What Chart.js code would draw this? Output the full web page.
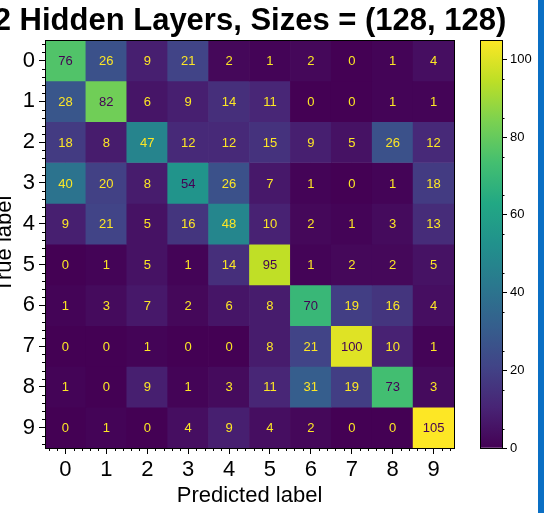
<!DOCTYPE html>
<html>
<head>
<meta charset="utf-8">
<script src="https://cdn.jsdelivr.net/npm/chart.js@4.4.1/dist/chart.umd.min.js"></script>
<style>
  html, body { margin: 0; padding: 0; background: #fff; overflow: hidden; }
  #wrap { position: relative; width: 550px; height: 513px; }
  #cm { position: absolute; left: -8px; top: 0; }
  #cbar { position: absolute; left: 470px; top: 0; }
  #edge { position: absolute; left: 538px; top: 0; width: 6px; height: 513px; background: #0a6fc4; }
</style>
</head>
<body>
<div id="wrap">
  <canvas id="cm" width="516" height="513"></canvas>
  <canvas id="cbar" width="70" height="513"></canvas>
  <div id="edge"></div>
</div>
<script>
var predictedLabels = ['0', '1', '2', '3', '4', '5', '6', '7', '8', '9'];
var trueLabels = ['0', '1', '2', '3', '4', '5', '6', '7', '8', '9'];

// rows = true label, columns = predicted label
var row0 = [76, 26, 9, 21, 2, 1, 2, 0, 1, 4];
var row1 = [28, 82, 6, 9, 14, 11, 0, 0, 1, 1];
var row2 = [18, 8, 47, 12, 12, 15, 9, 5, 26, 12];
var row3 = [40, 20, 8, 54, 26, 7, 1, 0, 1, 18];
var row4 = [9, 21, 5, 16, 48, 10, 2, 1, 3, 13];
var row5 = [0, 1, 5, 1, 14, 95, 1, 2, 2, 5];
var row6 = [1, 3, 7, 2, 6, 8, 70, 19, 16, 4];
var row7 = [0, 0, 1, 0, 0, 8, 21, 100, 10, 1];
var row8 = [1, 0, 9, 1, 3, 11, 31, 19, 73, 3];
var row9 = [0, 1, 0, 4, 9, 4, 2, 0, 0, 105];
var matrix = [row0, row1, row2, row3, row4, row5, row6, row7, row8, row9];

var colorbarTicks = [0, 20, 40, 60, 80, 100];
var titleText = '2 Hidden Layers, Sizes = (128, 128)';

var vmax = Math.max.apply(null, matrix.map(function (r) { return Math.max.apply(null, r); }));
var vmin = 0;

var VIR = ['#440154', '#482475', '#414487', '#355f8d', '#2a788e', '#21918c',
           '#22a884', '#44bf70', '#7ad151', '#bddf26', '#fde725'];

function hex(c) {
  return [parseInt(c.slice(1, 3), 16), parseInt(c.slice(3, 5), 16), parseInt(c.slice(5, 7), 16)];
}
function viridis(t) {
  t = Math.max(0, Math.min(1, t));
  var p = t * 10, i = Math.min(9, Math.floor(p)), f = p - i;
  var a = hex(VIR[i]), b = hex(VIR[i + 1]);
  return 'rgb(' + a.map(function (v, k) { return Math.round(v + (b[k] - v) * f); }).join(',') + ')';
}

Chart.defaults.font.family = '"Liberation Sans", Arial, sans-serif';
Chart.defaults.color = '#000';

// frame + minor ticks + cell numbers
var cmExtras = {
  id: 'cmExtras',
  afterDatasetsDraw: function (chart) {
    var ctx = chart.ctx;
    ctx.save();
    ctx.font = '13px "Liberation Sans", Arial, sans-serif';
    ctx.textAlign = 'center';
    ctx.textBaseline = 'middle';
    matrix.forEach(function (row, r) {
      var meta = chart.getDatasetMeta(r);
      meta.data.forEach(function (bar, c) {
        var v = row[c];
        var p = bar.getCenterPoint();
        ctx.fillStyle = v > (vmax + vmin) / 2 ? VIR[0] : VIR[10];
        ctx.fillText(String(v), p.x, p.y + 1);
      });
    });
    ctx.restore();
  },
  afterDraw: function (chart) {
    var ctx = chart.ctx, a = chart.chartArea;
    var xs = chart.scales.x, ys = chart.scales.y;
    ctx.save();
    ctx.strokeStyle = '#000';
    ctx.lineWidth = 1;
    ctx.beginPath();
    for (var k = -2; k <= 47; k++) {
      if (k % 5 === 0) continue;
      var v = k / 5;
      var px = Math.round(xs.getPixelForValue(v)) + 0.5;
      ctx.moveTo(px, a.bottom);
      ctx.lineTo(px, a.bottom + 3);
      var py = Math.round(ys.getPixelForValue(v)) + 0.5;
      ctx.moveTo(a.left, py);
      ctx.lineTo(a.left - 3, py);
    }
    ctx.stroke();
    ctx.strokeRect(Math.round(a.left) + 0.5, Math.round(a.top) + 0.5,
                   Math.round(a.right - a.left), Math.round(a.bottom - a.top));
    ctx.restore();
  }
};

new Chart(document.getElementById('cm'), {
  type: 'bar',
  data: {
    labels: predictedLabels,
    datasets: trueLabels.map(function (t, r) {
      return {
        label: t,
        data: matrix[r].map(function () { return [r - 0.5, r + 0.5]; }),
        backgroundColor: matrix[r].map(function (v) { return viridis((v - vmin) / (vmax - vmin)); }),
        borderWidth: 0,
        barPercentage: 1,
        categoryPercentage: 1,
        grouped: false
      };
    })
  },
  options: {
    responsive: false,
    animation: false,
    layout: { padding: 0 },
    plugins: {
      legend: { display: false },
      tooltip: { enabled: false },
      title: {
        display: true,
        text: titleText,
        color: '#000',
        font: { size: 31, weight: 'bold' },
        padding: { top: 3, bottom: 0 }
      }
    },
    scales: {
      x: {
        type: 'category',
        offset: true,
        z: 1,
        afterFit: function (s) { s.height = 65; },
        grid: { offset: false, color: 'rgba(0,0,0,0.13)', tickColor: '#000', tickLength: 6, lineWidth: 1 },
        border: { display: false },
        ticks: { font: { size: 22 }, color: '#000', padding: 3, maxRotation: 0 },
        title: { display: true, text: 'Predicted label', font: { size: 22 }, color: '#000', padding: { top: 0, bottom: 4 } }
      },
      y: {
        type: 'linear',
        reverse: true,
        min: -0.5,
        max: 9.5,
        z: 1,
        afterBuildTicks: function (s) {
          s.ticks = trueLabels.map(function (t, i) { return { value: i }; });
        },
        afterFit: function (s) { s.width = 53; },
        grid: { color: 'rgba(0,0,0,0.13)', tickColor: '#000', tickLength: 6, lineWidth: 1 },
        border: { display: false },
        ticks: {
          font: { size: 22 }, color: '#000', padding: 4,
          callback: function (v) { return trueLabels[v]; }
        },
        title: { display: true, text: 'True label', font: { size: 22 }, color: '#000', padding: { top: 0, bottom: 0 } }
      },
      // empty right-hand box so the title centres over the plot
      spacer: {
        type: 'linear',
        axis: 'y',
        position: 'right',
        afterFit: function (s) { s.width = 54; },
        grid: { display: false },
        border: { display: false },
        ticks: { display: false }
      }
    }
  },
  plugins: [cmExtras]
});

// colorbar
var cbExtras = {
  id: 'cbExtras',
  afterDraw: function (chart) {
    var ctx = chart.ctx, a = chart.chartArea, ys = chart.scales.y;
    ctx.save();
    ctx.strokeStyle = '#000';
    ctx.lineWidth = 1;
    ctx.beginPath();
    for (var v = 5; v < vmax; v += 10) {
      var py = Math.round(ys.getPixelForValue(v)) + 0.5;
      ctx.moveTo(a.right, py);
      ctx.lineTo(a.right + 2.5, py);
    }
    ctx.stroke();
    ctx.strokeRect(Math.round(a.left) + 0.5, Math.round(a.top) + 0.5,
                   Math.round(a.right - a.left), Math.round(a.bottom - a.top));
    ctx.restore();
  }
};

new Chart(document.getElementById('cbar'), {
  type: 'bar',
  data: {
    labels: [''],
    datasets: [{
      data: [[vmin, vmax]],
      borderWidth: 0,
      barPercentage: 1,
      categoryPercentage: 1,
      backgroundColor: function (c) {
        var a = c.chart.chartArea;
        if (!a) return VIR[0];
        var g = c.chart.ctx.createLinearGradient(0, a.bottom, 0, a.top);
        VIR.forEach(function (col, i) { g.addColorStop(i / 10, col); });
        return g;
      }
    }]
  },
  options: {
    responsive: false,
    animation: false,
    layout: { padding: { left: 10, right: 0, top: 40, bottom: 65 } },
    plugins: { legend: { display: false }, tooltip: { enabled: false } },
    scales: {
      x: { display: false },
      y: {
        position: 'right',
        min: vmin,
        max: vmax,
        afterBuildTicks: function (s) {
          s.ticks = colorbarTicks.map(function (v) { return { value: v }; });
        },
        afterFit: function (s) { s.width = 38; },
        grid: { drawOnChartArea: false, tickColor: '#000', tickLength: 5 },
        border: { display: false },
        ticks: { font: { size: 13 }, color: '#000', padding: 3 }
      }
    }
  },
  plugins: [cbExtras]
});
</script>
</body>
</html>
